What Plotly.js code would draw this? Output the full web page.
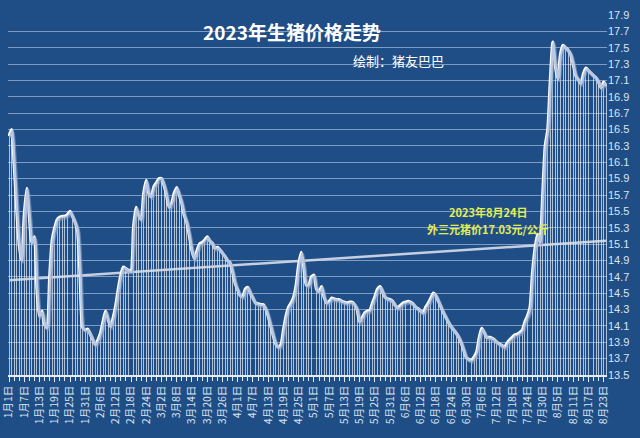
<!DOCTYPE html>
<html><head><meta charset="utf-8">
<script src="https://cdn.plot.ly/plotly-3.0.1.min.js"></script>
<style>html,body{margin:0;padding:0;background:#1F4E87;} #chart{width:640px;height:438px;}</style>
</head><body><div id="chart"></div>
<script>
// Daily price of 外三元 pigs, 2023-01-01 .. 2023-08-24 (元/公斤)
const prices = [
16.42,16.5,16.1,15.55,15.1,14.9,15.45,15.78,15.45,15.12,
15.19,14.55,14.22,14.28,14.12,14.08,14.7,15.15,15.3,15.4,
15.43,15.44,15.44,15.46,15.5,15.44,15.37,15.26,14.7,14.08,
14.05,14.06,14.0,13.93,13.87,13.93,14.01,14.15,14.28,14.18,
14.09,14.2,14.35,14.55,14.72,14.82,14.8,14.78,14.77,15.3,
15.55,15.45,15.4,15.72,15.88,15.72,15.68,15.8,15.85,15.9,
15.9,15.82,15.7,15.55,15.6,15.72,15.79,15.7,15.6,15.45,
15.36,15.2,15.02,14.92,15.02,15.1,15.12,15.15,15.19,15.14,
15.11,15.05,15.06,15.03,14.99,14.95,14.9,14.87,14.76,14.62,
14.54,14.47,14.46,14.55,14.57,14.5,14.44,14.38,14.37,14.36,
14.36,14.31,14.22,14.1,13.98,13.88,13.84,13.87,14.05,14.22,
14.33,14.38,14.45,14.6,14.85,15.0,14.82,14.6,14.6,14.7,
14.72,14.55,14.52,14.58,14.45,14.38,14.4,14.44,14.43,14.42,
14.42,14.4,14.39,14.38,14.39,14.39,14.36,14.3,14.15,14.2,
14.26,14.28,14.29,14.38,14.46,14.55,14.58,14.52,14.45,14.43,
14.42,14.4,14.35,14.32,14.35,14.38,14.39,14.4,14.39,14.37,
14.33,14.31,14.28,14.26,14.33,14.38,14.44,14.5,14.47,14.4,
14.33,14.26,14.2,14.14,14.09,14.05,14.01,13.96,13.89,13.8,
13.71,13.69,13.68,13.72,13.78,13.95,14.07,14.02,13.96,13.96,
13.95,13.93,13.9,13.88,13.86,13.84,13.89,13.93,13.96,13.99,
14.0,14.02,14.05,14.15,14.22,14.32,14.75,15.05,15.22,15.12,
15.7,16.3,16.5,17.1,17.57,17.27,17.12,17.42,17.53,17.5,
17.47,17.42,17.3,17.16,17.11,17.06,17.18,17.25,17.22,17.19,
17.16,17.13,17.08,17.01,17.08,17.03
];
const tickLabels = [
'1月1日','1月7日','1月13日','1月19日','1月25日','1月31日',
'2月6日','2月12日','2月18日','2月24日',
'3月2日','3月8日','3月14日','3月20日','3月26日',
'4月1日','4月7日','4月13日','4月19日','4月25日',
'5月1日','5月7日','5月13日','5月19日','5月25日','5月31日',
'6月6日','6月12日','6月18日','6月24日','6月30日',
'7月6日','7月12日','7月18日','7月24日','7月30日',
'8月5日','8月11日','8月17日','8月23日'
];
const tickStepDays = 6;
const yTicks = [13.5,13.7,13.9,14.1,14.3,14.5,14.7,14.9,15.1,15.3,15.5,15.7,15.9,16.1,16.3,16.5,16.7,16.9,17.1,17.3,17.5,17.7,17.9];
const titleText = '2023年生猪价格走势';
const subtitleText = '绘制：猪友巴巴';
const noteDate = '2023年8月24日';
const notePrice = '外三元猪价17.03元/公斤';

const days = prices.map((_, i) => i);
const tickVals = tickLabels.map((_, i) => i * tickStepDays);

// linear trend line (least squares)
const n = prices.length;
const mx = days.reduce((a, b) => a + b, 0) / n;
const my = prices.reduce((a, b) => a + b, 0) / n;
let sxy = 0, sxx = 0;
for (let i = 0; i < n; i++) { sxy += (days[i] - mx) * (prices[i] - my); sxx += (days[i] - mx) ** 2; }
const slope = sxy / sxx, intercept = my - slope * mx;
const trendX = [days[0], days[n - 1]];
const trendY = trendX.map(x => intercept + slope * x);

const xr = [-0.4, n - 1 + 0.3];
const yr = [13.5, 17.9];
const bg = '#1F4E87';
const fontCJK = '"Noto Sans CJK SC", "Noto Sans", sans-serif';

const traces = [
  { type: 'bar', x: days, y: prices, width: 0.38, marker: { color: 'rgba(235,242,250,0.7)', line: { width: 0 } }, hoverinfo: 'skip' },
  { type: 'scatter', mode: 'lines', x: trendX, y: trendY, line: { color: 'rgba(215,222,234,0.9)', width: 2.5 } },
  { type: 'scatter', mode: 'lines', x: days, y: prices, xaxis: 'x2', yaxis: 'y2', line: { color: 'rgba(140,165,205,0.6)', width: 3.5, shape: 'spline', smoothing: 0.6 } },
  { type: 'scatter', mode: 'lines', x: days, y: prices, line: { color: '#FFFFFF', width: 3.2, shape: 'spline', smoothing: 0.6 } }
];

const layout = {
  width: 640, height: 438,
  paper_bgcolor: bg, plot_bgcolor: bg,
  margin: { l: 8, r: 33, t: 15, b: 63 },
  showlegend: false,
  bargap: 0,
  title: { text: '<b>' + titleText + '</b>', x: 292 / 640, y: 1 - 33 / 438, xanchor: 'center', yanchor: 'middle', font: { family: fontCJK, size: 19, color: '#FFFFFF' } },
  xaxis: {
    range: xr, tickmode: 'array', tickvals: tickVals, ticktext: tickLabels, tickangle: -90,
    tickfont: { family: fontCJK, size: 10.5, color: '#DCE4EF' },
    showgrid: false, zeroline: false, showline: true, linecolor: '#E6ECF4', linewidth: 1.5,
    ticks: 'outside', ticklen: 5, tickcolor: '#E6ECF4', tickwidth: 1,
    minor: { tickmode: 'linear', tick0: 0, dtick: 2, ticks: 'outside', ticklen: 4, tickcolor: '#E6ECF4', showgrid: false },
    fixedrange: true
  },
  yaxis: {
    range: yr, side: 'right', tickmode: 'array', tickvals: yTicks, ticktext: yTicks.map(v => v.toFixed(1)),
    tickfont: { family: 'Liberation Sans, Arial, sans-serif', size: 11, color: '#DCE4EF' },
    showgrid: true, gridcolor: 'rgba(185,205,232,0.62)', gridwidth: 1, zeroline: false, showline: false, ticks: '',
    fixedrange: true
  },
  xaxis2: { overlaying: 'x', range: [xr[0] - 0.45, xr[1] - 0.45], visible: false },
  yaxis2: { overlaying: 'y', range: [yr[0] + 0.02, yr[1] + 0.02], visible: false },
  annotations: [
    { xref: 'paper', yref: 'paper', x: (399 - 8) / 599, y: (375 - 60) / 360, text: subtitleText, showarrow: false, xanchor: 'center', yanchor: 'middle', font: { family: fontCJK, size: 13, color: '#FFFFFF' } },
    { xref: 'paper', yref: 'paper', x: (488 - 8) / 599, y: (375 - 212) / 360, text: '<b>' + noteDate + '</b>', showarrow: false, xanchor: 'center', yanchor: 'middle', font: { family: fontCJK, size: 11, color: '#E4EE4E' } },
    { xref: 'paper', yref: 'paper', x: (488 - 8) / 599, y: (375 - 229) / 360, text: '<b>' + notePrice + '</b>', showarrow: false, xanchor: 'center', yanchor: 'middle', font: { family: fontCJK, size: 11, color: '#E4EE4E' } }
  ]
};

Plotly.newPlot('chart', traces, layout, { displayModeBar: false, staticPlot: true });
</script>
</body></html>
